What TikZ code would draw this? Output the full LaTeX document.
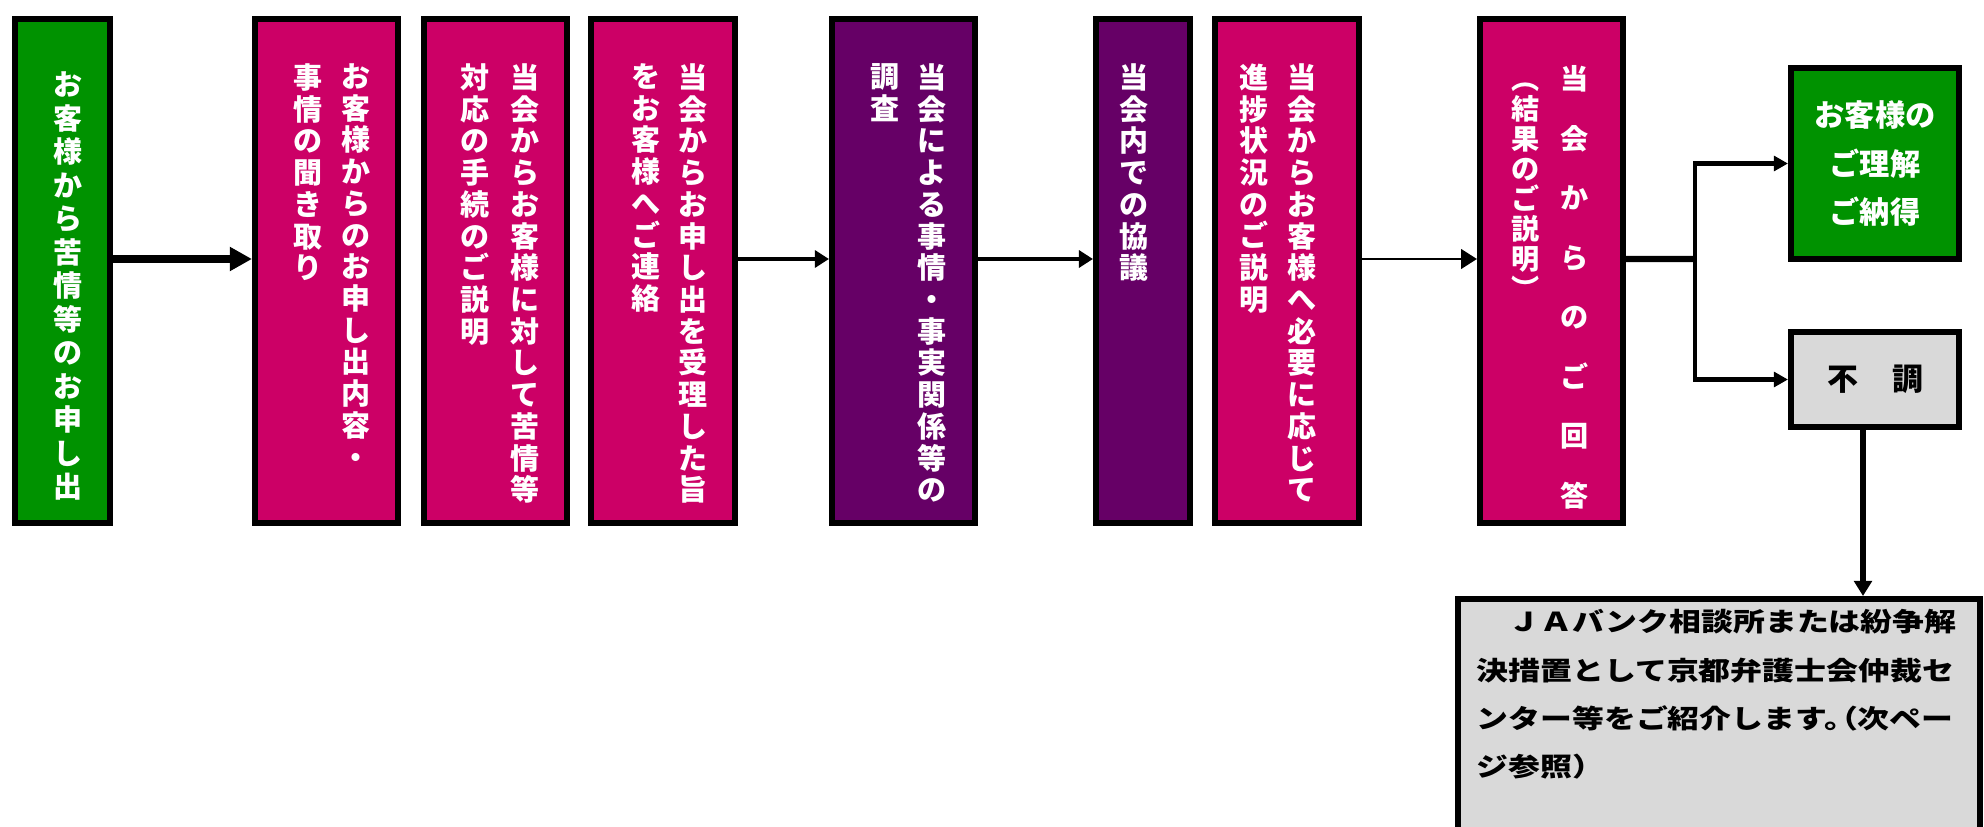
\documentclass[tikz,border=0pt]{standalone}
\usepackage{fontspec}
\usetikzlibrary{arrows.meta}
\newfontfamily\jp{Noto Sans CJK JP}
\newfontfamily\jpwide[FakeStretch=1.225]{Noto Sans CJK JP}
\definecolor{okgreen}{HTML}{009200}
\definecolor{rose}{HTML}{CC0066}
\definecolor{plum}{HTML}{660066}
\definecolor{lgray}{HTML}{D9D9D9}
\tikzset{
  box/.style={draw,line width=1.7pt,inner sep=0pt},
  tall/.style={box,minimum width=1.43cm,minimum height=5.04cm},
  col/.style={text=white,align=center,inner sep=0pt,anchor=north,
    font=\jp\bfseries\fontsize{8.25}{9.02}\selectfont},
}

\begin{document}
\begin{tikzpicture}[x=0.01cm,y=-0.01cm,>={Triangle[length=4pt,width=4.8pt]}]
    \useasboundingbox (0,0) rectangle (1984,827);
    % tall boxes
    \node[tall,fill=okgreen,minimum width=0.95cm] (b1) at (62.5,271) {};
    \node[tall,fill=rose] (b2) at (326.5,271) {};
    \node[tall,fill=rose] (b3) at (495.5,271) {};
    \node[tall,fill=rose] (b4) at (663,271) {};
    \node[tall,fill=plum] (b5) at (903.5,271) {};
    \node[tall,fill=plum,minimum width=0.94cm] (b6) at (1143,271) {};
    \node[tall,fill=rose] (b7) at (1287,271) {};
    \node[tall,fill=rose] (b8) at (1551.5,271) {};
    % vertical texts
    \node[col,font=\jp\bfseries\fontsize{8.25}{9.53}\selectfont] (t1) at (68.5,71) {お\\客\\様\\か\\ら\\苦\\情\\等\\の\\お\\申\\し\\出};
    \node[col] (t2r) at (356,63) {お\\客\\様\\か\\ら\\の\\お\\申\\し\\出\\内\\容\\・};
    \node[col] (t2l) at (308,63) {事\\情\\の\\聞\\き\\取\\り};
    \node[col] (t3r) at (525,63) {当\\会\\か\\ら\\お\\客\\様\\に\\対\\し\\て\\苦\\情\\等};
    \node[col] (t3l) at (475.5,63) {対\\応\\の\\手\\続\\の\\ご\\説\\明};
    \node[col] (t4r) at (693,63) {当\\会\\か\\ら\\お\\申\\し\\出\\を\\受\\理\\し\\た\\旨};
    \node[col] (t4l) at (646,63) {を\\お\\客\\様\\へ\\ご\\連\\絡};
    \node[col] (t5r) at (932,63) {当\\会\\に\\よ\\る\\事\\情\\・\\事\\実\\関\\係\\等\\の};
    \node[col] (t5l) at (884.5,63) {調\\査};
    \node[col] (t6) at (1133.5,63) {当\\会\\内\\で\\の\\協\\議};
    \node[col] (t7r) at (1302,63) {当\\会\\か\\ら\\お\\客\\様\\へ\\必\\要\\に\\応\\じ\\て};
    \node[col] (t7l) at (1254,63) {進\\捗\\状\\況\\の\\ご\\説\\明};
    \node[col,font=\jp\bfseries\fontsize{8}{16.93}\selectfont] (t8r) at (1575,65) {当\\会\\か\\ら\\の\\ご\\回\\答};
    \node[col,font=\jp\bfseries\fontsize{8}{8.54}\selectfont] (t8l) at (1526,65) {\vphantom{結}︵\\結\\果\\の\\ご\\説\\明\\︶};
    % right side
    \node[box,fill=okgreen,minimum width=1.68cm,minimum height=1.91cm,text=white,align=center,
        font=\jp\bfseries\fontsize{8.6}{13.66}\selectfont] (b9) at (1875,163.5) {お客様の\\ご理解\\ご納得};
    \node[box,fill=lgray,minimum width=1.68cm,minimum height=0.95cm,
        font=\jp\bfseries\fontsize{8.8}{10}\selectfont] (b10) at (1875,379.5) {不\hspace{1.1em}調};
    \node[box,fill=lgray,minimum width=5.22cm,minimum height=3cm,anchor=north west] (b11) at (1455,596) {};
    \node[anchor=north west,align=left,inner sep=0pt,
        font=\jpwide\bfseries\fontsize{7.4}{13.66}\selectfont] (t11) at (1476,609)
        {　ＪＡバンク相談所または紛争解\\決措置として京都弁護士会仲裁セ\\ンター等をご紹介します。\kern-0.3cm（次ペー\\ジ参照）};
    % arrows
    \draw[line width=2pt,-{Triangle[length=6.3pt,width=6.5pt]}]([yshift=.12cm]b1.east)--([yshift=.12cm]b2.west);
    \draw[line width=1pt,->]([yshift=.12cm]b4.east)--([yshift=.12cm]b5.west);
    \draw[line width=1pt,->]([yshift=.12cm]b5.east)--([yshift=.12cm]b6.west);
    \draw[line width=.8pt,-{Triangle[length=4.5pt,width=5.5pt]}]([yshift=.12cm]b7.east)--([yshift=.12cm]b8.west);
    \coordinate (fork) at (1695,259);
    \draw[line width=1.8pt]([yshift=.12cm]b8.east)--(fork);
    \draw[line width=1.2pt,{Triangle[length=4pt,width=4.2pt]}-{Triangle[length=4pt,width=4.2pt]}](b9.west)-|(fork)|-(b10.west);
    \draw[line width=1.8pt,-{Triangle[length=4.3pt,width=5pt]}]([xshift=-.12cm]b10.south)--([xshift=-.12cm]b10.south|-b11.north);
\end{tikzpicture}
\end{document}
